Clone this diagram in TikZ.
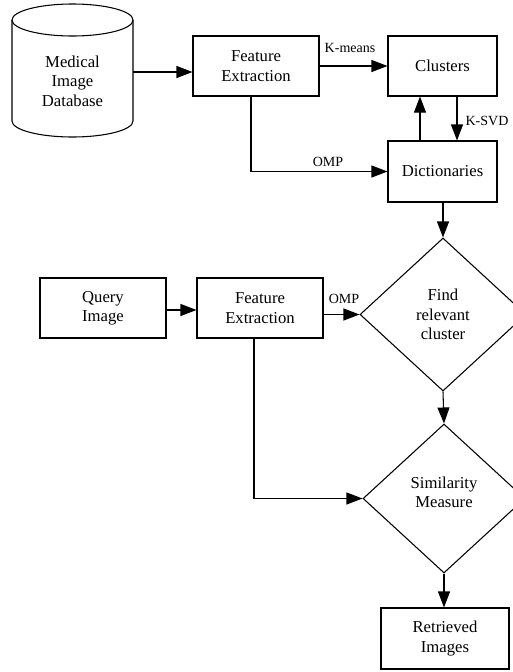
\documentclass[tikz,border=0pt]{standalone}
\usepackage{fontspec}
\setmainfont{Liberation Serif}
\usetikzlibrary{shapes.geometric,arrows.meta}
\begin{document}
\begin{tikzpicture}[x=0.75pt,y=-0.75pt,
  every node/.style={font=\fontsize{12.5}{14.5}\selectfont, align=center},
  box/.style={draw, line width=0.8pt, inner sep=0pt},
  dia/.style={draw, line width=0.8pt, shape=diamond, inner sep=0pt},
  lbl/.style={font=\fontsize{10.5}{12}\selectfont, inner sep=0pt},
  conn/.style={line width=0.8pt, -{Triangle[length=12pt,width=9pt]}},
  plain/.style={line width=0.8pt}]
\useasboundingbox (0,0) rectangle (513,672);
% cylinder
\draw[line width=0.8pt] (12,20) -- (12,121) arc[start angle=180,end angle=0,x radius=60.5,y radius=16] -- (133,20);
\draw[line width=0.8pt] (72.5,20) ellipse[x radius=60.5,y radius=16];
\node (db) at (72.5,81) {Medical\\Image\\Database};
\coordinate (dbout) at (133,72);
% boxes
\node[box, minimum width=126*0.75pt, minimum height=60*0.75pt] (fe1) at (256,66) {Feature\\Extraction};
\node[box, minimum width=109*0.75pt, minimum height=60*0.75pt] (cl) at (442.5,66) {Clusters};
\node[box, minimum width=109*0.75pt, minimum height=61*0.75pt] (dic) at (442.5,171.5) {Dictionaries};
\node[dia, minimum width=166*0.75pt, minimum height=153*0.75pt] (d1) at (443,314.5) {Find\\relevant\\cluster};
\node[box, minimum width=126*0.75pt, minimum height=60*0.75pt] (qi) at (103,308) {Query\\Image};
\node[box, minimum width=126*0.75pt, minimum height=60*0.75pt] (fe2) at (260,308) {Feature\\Extraction};
\node[dia, minimum width=162*0.75pt, minimum height=149*0.75pt] (d2) at (444,498.5) {};
\node at (444,492) {Similarity\\Measure};
\node[box, minimum width=128*0.75pt, minimum height=61*0.75pt] (ri) at (445,638.5) {Retrieved\\Images};
% connectors
\draw[conn] (dbout) -- (dbout -| fe1.west);
\draw[conn] (fe1.east) -- (cl.west);
\node[lbl] at (350,48) {K-means};
\draw[conn] (dic.north -| 420,0) -- (cl.south -| 420,0);
\draw[conn] (cl.south -| 457,0) -- (dic.north -| 457,0);
\node[lbl] at (487,121) {K-SVD};
\draw[conn] (fe1.south -| 251,0) |- (dic.west);
\node[lbl] at (328,162) {OMP};
\draw[conn] (dic.south -| d1.north) -- (d1.north);
\draw[conn] (qi.east |- 0,310) -- (fe2.west |- 0,310);
\draw[conn] (fe2.east |- d1.west) -- (d1.west);
\node[lbl] at (344,299) {OMP};
\draw[conn] (fe2.south -| 254,0) |- (d2.west);
\draw[conn] (d1.south) -- (d2.north);
\draw[conn] (d2.south) -- (d2.south |- ri.north);
\end{tikzpicture}
\end{document}
